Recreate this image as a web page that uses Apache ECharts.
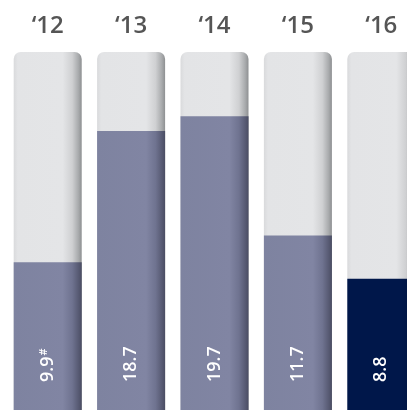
<!DOCTYPE html>
<html><head><meta charset="utf-8">
<script src="https://cdn.jsdelivr.net/npm/echarts@6/dist/echarts.min.js"></script>
<style>html,body{margin:0;padding:0;background:#fff;}#c{width:407px;height:411px;}</style>
</head><body><div id="c"></div>
<script>
const categories = ["‘12", "‘13", "‘14", "‘15", "‘16"];
const values = [9.9, 18.7, 19.7, 11.7, 8.8];
const valueLabels = ["9.9", "18.7", "19.7", "11.7", "8.8"];
const footnoteMarks = ["#", "", "", "", ""];
const highlight = [false, false, false, false, true];
const fullValue = 24;

function grad(stops){
  return {type:'linear',x:0,y:0,x2:1,y2:0,colorStops:stops.map(s=>({offset:s[0],color:s[1]}))};
}
const bgGrad = grad([[0,'#d9dadc'],[0.06,'#e3e4e6'],[0.72,'#e4e5e7'],[0.86,'#cfd0d2'],[0.95,'#a9abad'],[1,'#8e9092']]);
const valGrad = grad([[0,'#7e83a0'],[0.72,'#8185a3'],[0.86,'#6f7390'],[0.95,'#585b74'],[1,'#4a4d63']]);
const hiGrad = grad([[0,'#00174a'],[0.8,'#00174a'],[0.95,'#001440'],[1,'#00113a']]);

const chart = echarts.init(document.getElementById('c'));
chart.setOption({
  animation:false,
  grid:{left:6, width:417, top:52, bottom:1, outerBoundsMode:'none', containLabel:false},
  xAxis:{type:'category', data:categories, position:'top',
    axisLine:{show:false}, axisTick:{show:false},
    axisLabel:{color:'#555555', fontSize:24, fontWeight:600, fontFamily:'Open Sans', margin:14}},
  yAxis:{type:'value', min:0, max:fullValue, show:false},
  series:[
    {type:'bar', barWidth:68, silent:true,
     data:categories.map(()=>fullValue),
     itemStyle:{color:bgGrad, borderRadius:[7,7,0,0]}},
    {type:'bar', barWidth:68, barGap:'-100%',
     data:values.map((v,i)=>({value:v, itemStyle:{color: highlight[i]?hiGrad:valGrad}})),
     label:{show:true, position:'insideBottom', rotate:90, distance:28,
       align:'left', verticalAlign:'middle',
       formatter:(p)=> valueLabels[p.dataIndex] + (footnoteMarks[p.dataIndex] ? '{sup|'+footnoteMarks[p.dataIndex]+'}' : ''),
       color:'#fff', fontSize:18, fontWeight:600, fontFamily:'Open Sans',
       rich:{sup:{fontSize:11, color:'#fff', fontWeight:600, fontFamily:'Open Sans', verticalAlign:'top', padding:[0,0,7,1]}}}
    }
  ]
});
</script></body></html>
